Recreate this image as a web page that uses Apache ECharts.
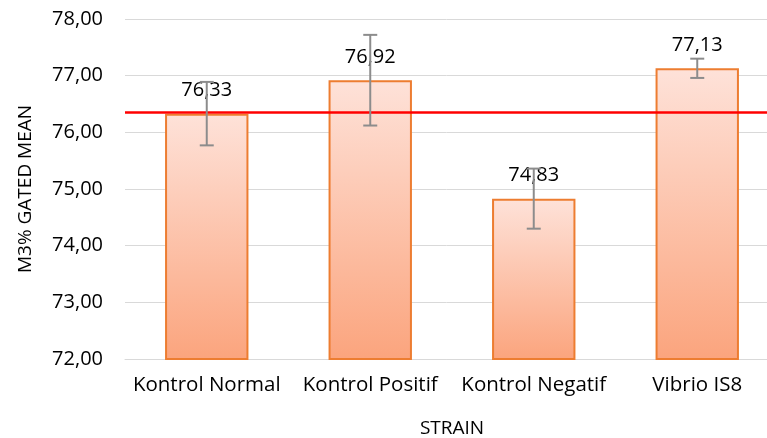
<!DOCTYPE html>
<html>
<head>
<meta charset="utf-8">
<script src="https://cdn.jsdelivr.net/npm/echarts@6/dist/echarts.min.js"></script>
<style>
html,body{margin:0;padding:0;background:#fff;}
#chartbox{width:767px;height:438px;}
</style>
</head>
<body>
<div id="chartbox"></div>
<script>
var categories = ['Kontrol Normal', 'Kontrol Positif', 'Kontrol Negatif', 'Vibrio IS8'];
var means = [76.33, 76.92, 74.83, 77.13];
var errors = [0.56, 0.80, 0.53, 0.17];
var refLine = 76.36;
var yTicks = {min: 72, max: 78, interval: 1};

var fmt = function (v) { return Number(v).toFixed(2).replace('.', ','); };
var font = 'Open Sans';

var charts = echarts.init(document.getElementById('chartbox'));

// error bar data: [index, low, high]
var errData = means.map(function (m, i) {
    return [i, m - errors[i], m + errors[i]];
});

var option = {
    backgroundColor: '#fff',
    animation: false,
    grid: {left: 125, top: 19, width: 654, height: 340, outerBoundsMode: 'none', containLabel: false},
    xAxis: {
        type: 'category',
        data: categories,
        name: 'STRAIN',
        nameLocation: 'middle',
        nameGap: 60,
        nameTextStyle: {fontFamily: font, fontSize: 19, color: '#000'},
        axisLine: {lineStyle: {color: '#d9d9d9'}},
        axisTick: {show: false},
        axisLabel: {fontFamily: font, fontSize: 20.5, color: '#000', margin: 16, interval: 0, hideOverlap: false}
    },
    yAxis: {
        type: 'value',
        min: yTicks.min,
        max: yTicks.max,
        interval: yTicks.interval,
        name: 'M3% GATED MEAN',
        nameLocation: 'middle',
        nameGap: 90,
        nameTextStyle: {fontFamily: font, fontSize: 19, color: '#000'},
        axisLine: {show: false},
        axisTick: {show: false},
        axisLabel: {fontFamily: font, fontSize: 20, color: '#000', margin: 22, formatter: fmt},
        splitLine: {lineStyle: {color: '#d9d9d9', width: 1}}
    },
    series: [
        {
            type: 'bar',
            data: means,
            barWidth: '51%',
            itemStyle: {
                borderColor: '#ed7d31',
                borderWidth: 2,
                color: new echarts.graphic.LinearGradient(0, 0, 0, 1, [
                    {offset: 0, color: '#fee2d9'},
                    {offset: 1, color: '#fba47d'}
                ])
            },
            label: {
                show: true,
                position: 'top',
                distance: 13,
                fontFamily: font,
                fontSize: 20,
                color: '#000',
                formatter: function (p) { return fmt(p.value); }
            },
            markLine: {
                silent: true,
                symbol: 'none',
                label: {show: false},
                lineStyle: {color: '#ff0000', width: 2.5, type: 'solid'},
                data: [{yAxis: refLine}]
            },
            z: 2
        },
        {
            type: 'custom',
            data: errData,
            z: 5,
            renderItem: function (params, api) {
                var x = api.value(0);
                var lo = api.coord([x, api.value(1)]);
                var hi = api.coord([x, api.value(2)]);
                var cap = 7;
                var style = {stroke: '#8c8c8c', lineWidth: 2};
                return {
                    type: 'group',
                    children: [
                        {type: 'line', shape: {x1: hi[0], y1: hi[1], x2: lo[0], y2: lo[1]}, style: style},
                        {type: 'line', shape: {x1: hi[0] - cap, y1: hi[1], x2: hi[0] + cap, y2: hi[1]}, style: style},
                        {type: 'line', shape: {x1: lo[0] - cap, y1: lo[1], x2: lo[0] + cap, y2: lo[1]}, style: style}
                    ]
                };
            }
        }
    ]
};
charts.setOption(option);
</script>
</body>
</html>
